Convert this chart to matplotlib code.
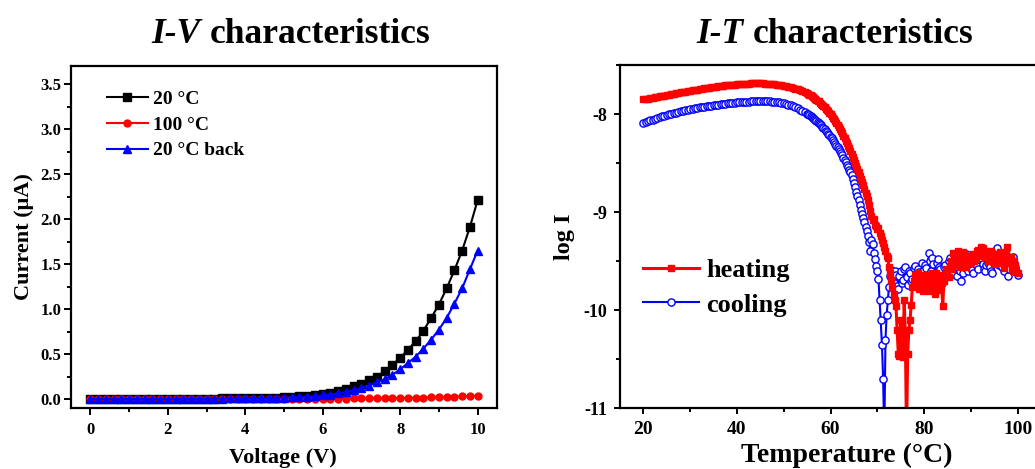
import numpy as np
import matplotlib
matplotlib.use("Agg")
import matplotlib.pyplot as plt
from matplotlib.ticker import MultipleLocator, FormatStrFormatter, FuncFormatter

plt.rcParams["font.family"] = ["Liberation Serif", "DejaVu Serif"]
plt.rcParams["font.weight"] = "bold"
plt.rcParams["axes.labelweight"] = "bold"

# ---------------- I-V data ----------------
voltage = np.round(np.arange(0, 10.01, 0.2), 1)

current_20C = [
    0.000, 0.000, 0.001, 0.001, 0.001, 0.001, 0.002, 0.002, 0.002, 0.002,
    0.003, 0.003, 0.003, 0.004, 0.004, 0.005, 0.005, 0.006, 0.007, 0.008,
    0.009, 0.010, 0.012, 0.014, 0.016, 0.019, 0.023, 0.028, 0.034, 0.044,
    0.055, 0.068, 0.085, 0.110, 0.140, 0.170, 0.210, 0.250, 0.310, 0.380,
    0.455, 0.550, 0.640, 0.760, 0.900, 1.050, 1.230, 1.430, 1.650, 1.910,
    2.210,
]
current_100C = [
    0.000, 0.000, 0.000, 0.000, 0.000, 0.000, 0.000, 0.000, 0.000, 0.000,
    0.000, 0.000, 0.000, 0.000, 0.001, 0.001, 0.001, 0.001, 0.001, 0.001,
    0.001, 0.001, 0.001, 0.002, 0.002, 0.002, 0.002, 0.002, 0.003, 0.003,
    0.004, 0.004, 0.005, 0.005, 0.006, 0.006, 0.007, 0.008, 0.009, 0.010,
    0.011, 0.012, 0.014, 0.016, 0.018, 0.020, 0.023, 0.026, 0.029, 0.032,
    0.036,
]
current_20C_back = [
    0.000, 0.000, 0.001, 0.001, 0.001, 0.001, 0.001, 0.002, 0.002, 0.002,
    0.002, 0.003, 0.003, 0.003, 0.004, 0.004, 0.005, 0.005, 0.006, 0.007,
    0.008, 0.009, 0.010, 0.011, 0.013, 0.015, 0.018, 0.022, 0.027, 0.033,
    0.041, 0.050, 0.062, 0.077, 0.096, 0.120, 0.150, 0.185, 0.220, 0.270,
    0.330, 0.400, 0.470, 0.560, 0.660, 0.770, 0.900, 1.060, 1.230, 1.440,
    1.650,
]
iv_labels = ["20 °C", "100 °C", "20 °C back"]

# ---------------- I-T data ----------------
# 0.5 °C steps up to 54.5 °C, then 0.25 °C steps to 100 °C
temperature = np.concatenate([np.arange(20, 55, 0.5),
                              np.arange(55, 100.001, 0.25)])

log_i_heating = [
    # 20.0 - 54.5 (0.5 step)
    -7.850, -7.846, -7.842, -7.838, -7.834, -7.830, -7.826, -7.821, -7.817, -7.812,
    -7.808, -7.803, -7.799, -7.794, -7.789, -7.785, -7.780, -7.776, -7.771, -7.767,
    -7.763, -7.759, -7.755, -7.751, -7.747, -7.743, -7.739, -7.735, -7.731, -7.728,
    -7.725, -7.721, -7.718, -7.715, -7.712, -7.709, -7.706, -7.704, -7.701, -7.699,
    -7.697, -7.695, -7.693, -7.692, -7.690, -7.689, -7.688, -7.688, -7.687, -7.687,
    -7.688, -7.688, -7.689, -7.690, -7.692, -7.694, -7.696, -7.699, -7.702, -7.706,
    -7.710, -7.715, -7.720, -7.726, -7.733, -7.740, -7.748, -7.757, -7.767, -7.778,
    # 55.00 - 100.00 (0.25 step)
    -7.790, -7.796, -7.803, -7.810, -7.818, -7.826, -7.834, -7.843, -7.852, -7.862,
    -7.872, -7.883, -7.894, -7.906, -7.918, -7.931, -7.944, -7.958, -7.972, -7.987,
    -8.003, -8.019, -8.036, -8.054, -8.072, -8.091, -8.111, -8.132, -8.153, -8.175,
    -8.198, -8.222, -8.246, -8.271, -8.297, -8.324, -8.351, -8.379, -8.408, -8.438,
    -8.468, -8.499, -8.530, -8.562, -8.595, -8.627, -8.660, -8.692, -8.725, -8.762,
    -8.800, -8.840, -8.880, -8.930, -8.985, -9.035, -9.080, -9.070, -9.130, -9.145,
    -9.170, -9.160, -9.210, -9.240, -9.280, -9.310, -9.360, -9.400, -9.450, -9.470,
    -9.560, -9.620, -9.690, -9.760, -9.830, -9.900, -9.960, -10.200, -10.450, -10.470,
    -10.100, -10.300, -10.480, -9.900, -10.250, -11.300, -10.450, -10.200, -10.100, -9.950,
    -9.760, -9.700, -9.640, -9.750, -9.700, -9.620, -9.780, -9.690, -9.660, -9.800,
    -9.720, -9.640, -9.650, -9.760, -9.800, -9.700, -9.680, -9.620, -9.740, -9.830,
    -9.620, -9.700, -9.790, -9.640, -9.660, -9.720, -9.960, -9.700, -9.640, -9.580,
    -9.600, -9.660, -9.550, -9.500, -9.580, -9.420, -9.460, -9.540, -9.520, -9.400,
    -9.430, -9.560, -9.500, -9.410, -9.440, -9.530, -9.560, -9.450, -9.470, -9.520,
    -9.510, -9.430, -9.440, -9.500, -9.480, -9.400, -9.390, -9.450, -9.420, -9.360,
    -9.370, -9.440, -9.460, -9.400, -9.430, -9.500, -9.480, -9.400, -9.420, -9.490,
    -9.530, -9.440, -9.460, -9.520, -9.500, -9.410, -9.430, -9.500, -9.570, -9.450,
    -9.410, -9.360, -9.520, -9.470, -9.460, -9.580, -9.600, -9.500, -9.550, -9.610,
    -9.620,
]
log_i_cooling = [
    # 20.0 - 54.5 (0.5 step)
    -8.090, -8.081, -8.073, -8.064, -8.056, -8.048, -8.040, -8.032, -8.025, -8.018,
    -8.011, -8.004, -7.997, -7.991, -7.985, -7.979, -7.973, -7.967, -7.962, -7.957,
    -7.952, -7.947, -7.942, -7.938, -7.933, -7.929, -7.925, -7.921, -7.917, -7.913,
    -7.910, -7.906, -7.903, -7.900, -7.897, -7.894, -7.891, -7.889, -7.886, -7.884,
    -7.882, -7.880, -7.878, -7.876, -7.875, -7.873, -7.872, -7.871, -7.870, -7.869,
    -7.869, -7.869, -7.869, -7.870, -7.871, -7.873, -7.875, -7.878, -7.882, -7.886,
    -7.891, -7.897, -7.904, -7.912, -7.921, -7.931, -7.942, -7.954, -7.967, -7.981,
    # 55.00 - 100.00 (0.25 step)
    -7.996, -8.004, -8.012, -8.021, -8.030, -8.039, -8.049, -8.059, -8.070, -8.081,
    -8.092, -8.104, -8.116, -8.129, -8.142, -8.156, -8.170, -8.185, -8.200, -8.216,
    -8.232, -8.249, -8.266, -8.284, -8.302, -8.321, -8.340, -8.360, -8.380, -8.401,
    -8.422, -8.444, -8.467, -8.491, -8.515, -8.540, -8.566, -8.593, -8.620, -8.660,
    -8.700, -8.745, -8.790, -8.835, -8.880, -8.930, -8.980, -9.020, -9.060, -9.105,
    -9.150, -9.195, -9.240, -9.300, -9.400, -9.280, -9.320, -9.420, -9.480, -9.550,
    -9.600, -9.680, -9.900, -10.100, -10.350, -10.700, -11.300, -10.300, -10.050, -9.900,
    -9.760, -9.650, -9.590, -9.680, -9.720, -9.600, -9.640, -9.750, -9.780, -9.650,
    -9.600, -9.720, -9.690, -9.580, -9.560, -9.660, -9.740, -9.600, -9.620, -9.700,
    -9.680, -9.570, -9.550, -9.640, -9.700, -9.580, -9.610, -9.680, -9.520, -9.600,
    -9.660, -9.540, -9.570, -9.650, -9.420, -9.500, -9.600, -9.470, -9.530, -9.620,
    -9.650, -9.520, -9.480, -9.560, -9.580, -9.660, -9.690, -9.560, -9.540, -9.610,
    -9.620, -9.500, -9.470, -9.540, -9.580, -9.630, -9.520, -9.460, -9.650, -9.560,
    -9.490, -9.600, -9.700, -9.620, -9.560, -9.480, -9.430, -9.540, -9.600, -9.520,
    -9.540, -9.590, -9.620, -9.500, -9.460, -9.550, -9.580, -9.480, -9.400, -9.470,
    -9.530, -9.580, -9.600, -9.540, -9.480, -9.520, -9.560, -9.600, -9.620, -9.510,
    -9.450, -9.400, -9.370, -9.460, -9.540, -9.500, -9.480, -9.560, -9.600, -9.520,
    -9.440, -9.500, -9.650, -9.580, -9.500, -9.470, -9.460, -9.520, -9.560, -9.600,
    -9.640,
]
it_labels = ["heating", "cooling"]

W, H = 1035, 469
fig = plt.figure(figsize=(W / 100, H / 100), dpi=100)


def style_axes(ax, lw=1.6):
    for s in ax.spines.values():
        s.set_linewidth(lw)
    ax.tick_params(which="both", direction="out", top=False, right=False,
                   width=1.4)


# ---------------- left panel: I-V ----------------
ax1 = fig.add_axes([71 / W, 1 - 408 / H, 426 / W, 342 / H])
ax1.plot(voltage, current_20C, color="black", marker="s", ms=5.2, lw=1.5,
         label=iv_labels[0])
ax1.plot(voltage, current_100C, color="red", marker="o", ms=5.0, lw=1.5,
         label=iv_labels[1])
ax1.plot(voltage, current_20C_back, color="blue", marker="^", ms=5.6, lw=1.5,
         label=iv_labels[2])
ax1.set_xlim(-0.5, 10.5)
ax1.set_ylim(-0.1, 3.7)
ax1.xaxis.set_major_locator(MultipleLocator(2))
ax1.xaxis.set_minor_locator(MultipleLocator(1))
ax1.yaxis.set_major_locator(MultipleLocator(0.5))
ax1.yaxis.set_minor_locator(MultipleLocator(0.25))
ax1.yaxis.set_major_formatter(FormatStrFormatter("%.1f"))
style_axes(ax1)
ax1.tick_params(which="major", length=5)
ax1.tick_params(which="minor", length=3)
ax1.tick_params(axis="y", labelsize=12, pad=2)
ax1.tick_params(axis="x", labelsize=12, pad=5)
ax1.set_ylabel("Current (μA)", fontsize=16)
ax1.set_xlabel("Voltage (V)", fontsize=16)
ax1.yaxis.set_label_coords(-0.088, 0.5)
ax1.xaxis.set_label_coords(0.498, -0.117)
ax1.legend(loc="upper left", bbox_to_anchor=(0.084, 0.930), frameon=False,
           fontsize=14, borderpad=0, borderaxespad=0, handlelength=2.1,
           handletextpad=0.3, labelspacing=0.43, numpoints=1)

# ---------------- right panel: I-T ----------------
ax2 = fig.add_axes([620 / W, 1 - 408.3 / H, 421 / W, 343.3 / H])
ax2.plot(temperature, log_i_cooling, color="blue", marker="o", ms=5.2,
         mfc="white", mec="blue", mew=1.0, lw=1.5, label=it_labels[1])
ax2.plot(temperature, log_i_heating, color="red", marker="s", ms=4.6,
         lw=2.2, label=it_labels[0])
ax2.set_xlim(15, 105)
ax2.set_ylim(-11, -7.5)
ax2.xaxis.set_major_locator(MultipleLocator(20))
ax2.xaxis.set_minor_locator(MultipleLocator(10))
ax2.yaxis.set_major_locator(MultipleLocator(1))
ax2.yaxis.set_minor_locator(MultipleLocator(0.5))
ax2.yaxis.set_major_formatter(FuncFormatter(lambda v, p: "%d" % round(v)))
style_axes(ax2)
ax2.tick_params(which="major", length=4)
ax2.tick_params(which="minor", length=3)
ax2.tick_params(axis="y", labelsize=13, pad=5)
ax2.tick_params(axis="x", labelsize=14, pad=5)
ax2.set_ylabel("log I", fontsize=17.5)
ax2.set_xlabel("Temperature (°C)", fontsize=20)
ax2.yaxis.set_label_coords(-0.107, 0.5)
ax2.xaxis.set_label_coords(0.539, -0.101)
h, l = ax2.get_legend_handles_labels()
ax2.legend(h[::-1], l[::-1], loc="upper left", bbox_to_anchor=(0.055, 0.436),
           frameon=False, fontsize=19, borderpad=0, borderaxespad=0,
           handlelength=2.1, handletextpad=0.3, labelspacing=0.42, numpoints=1)

# ---------------- panel titles ----------------
ty = 1 - 43 / H
fig.text(200 / W, ty, "I-V", fontsize=25.5, fontstyle="italic",
         fontweight="bold", ha="right", va="baseline")
fig.text(210 / W, ty, "characteristics", fontsize=25.5, fontweight="bold",
         ha="left", va="baseline")
fig.text(743 / W, ty, "I-T", fontsize=25.5, fontstyle="italic",
         fontweight="bold", ha="right", va="baseline")
fig.text(753 / W, ty, "characteristics", fontsize=25.5, fontweight="bold",
         ha="left", va="baseline")

fig.savefig("out.png", dpi=100)
